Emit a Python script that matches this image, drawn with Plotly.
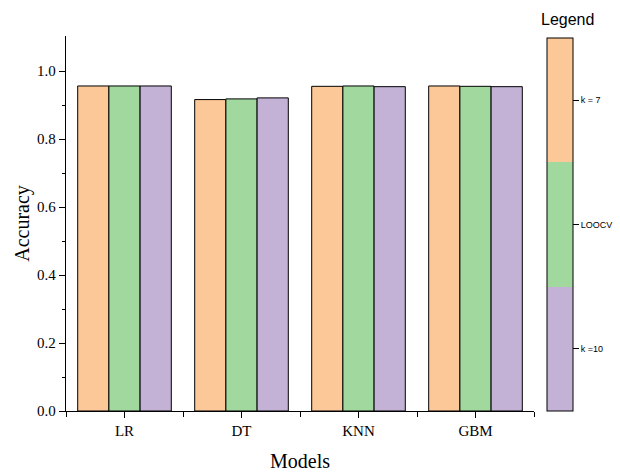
import plotly.graph_objects as go

models = ["LR", "DT", "KNN", "GBM"]
series_names = ["k = 7", "LOOCV", "k =10"]
k7 = [0.956, 0.916, 0.955, 0.956]
loocv = [0.956, 0.918, 0.956, 0.955]
k10 = [0.956, 0.921, 0.954, 0.954]
colors = ["#FCC897", "#A0D89E", "#C3B1D6"]
yticks = [0.0, 0.2, 0.4, 0.6, 0.8, 1.0]

xs = list(range(len(models)))
fig = go.Figure()
for name, vals, col in zip(series_names, [k7, loocv, k10], colors):
    fig.add_trace(go.Bar(x=xs, y=vals, name=name, marker=dict(color=col, line=dict(color="black", width=1)),
                         showlegend=False))

# colorbar-style legend via hidden heatmap
n = len(series_names)
cs = []
rev_cols = colors[::-1]
for i, c in enumerate(rev_cols):
    cs.append([i / n, c])
    cs.append([(i + 1) / n, c])
fig.add_trace(go.Heatmap(
    z=[[0, n]], x=[0, 1], y=[0], xaxis="x2", yaxis="y2", zmin=0, zmax=n,
    colorscale=cs, opacity=0, hoverinfo="skip",
    colorbar=dict(
        tickvals=[i + 0.5 for i in range(n)], ticktext=series_names[::-1],
        ticks="outside", ticklen=6, tickwidth=1, tickcolor="black",
        tickfont=dict(family="Liberation Sans, Arial", size=9, color="black"),
        outlinecolor="black", outlinewidth=1,
        thickness=26, thicknessmode="pixels",
        len=373, lenmode="pixels", yanchor="bottom", y=0, yref="paper",
        x=(547 - 66) / 468, xref="paper", xanchor="left", xpad=0, ypad=0,
    ),
))

fig.add_annotation(text="Legend", x=(567 - 66) / 468, y=(411 - 19) / 375, xref="paper", yref="paper",
                   showarrow=False, xanchor="center", yanchor="middle",
                   font=dict(family="Liberation Sans, Arial", size=16, color="black"))

fig.update_layout(
    width=620, height=472,
    margin=dict(l=66, r=86, t=36, b=61, autoexpand=False),
    paper_bgcolor="white", plot_bgcolor="white",
    barmode="group", bargap=0.2, bargroupgap=0,
    font=dict(family="Liberation Serif, Times New Roman", color="black", size=15),
    xaxis=dict(
        range=[-0.5, len(models) - 0.5], tickvals=xs, ticktext=models, automargin=False,
        showline=True, linecolor="black", linewidth=1.3, showgrid=False, zeroline=False,
        ticks="outside", ticklen=6, tickwidth=1.3, tickcolor="black",
        minor=dict(tickvals=[i - 0.5 for i in range(len(models) + 1)], ticks="outside", ticklen=5, tickwidth=1.3, tickcolor="black"),
        title=dict(text="Models", font=dict(size=20), standoff=17),
        tickfont=dict(size=15),
    ),
    yaxis=dict(
        range=[0, 1.103], tickvals=yticks, ticktext=[f"{v:.1f}" for v in yticks], automargin=False,
        showline=True, linecolor="black", linewidth=1.3, showgrid=False, zeroline=False,
        ticks="outside", ticklen=6, tickwidth=1.3, tickcolor="black",
        minor=dict(tickvals=[0.1, 0.3, 0.5, 0.7, 0.9], ticks="outside", ticklen=3, tickwidth=1.3, tickcolor="black"),
        title=dict(text="Accuracy", font=dict(size=20), standoff=2),
        tickfont=dict(size=15),
    ),
    xaxis2=dict(domain=[0, 0.01], visible=False, anchor="y2"),
    yaxis2=dict(domain=[0, 0.01], visible=False, anchor="x2"),
)

fig.write_html("out.html", config={"displayModeBar": False},
               post_script="document.body.style.margin='0';document.body.style.overflow='hidden';")
